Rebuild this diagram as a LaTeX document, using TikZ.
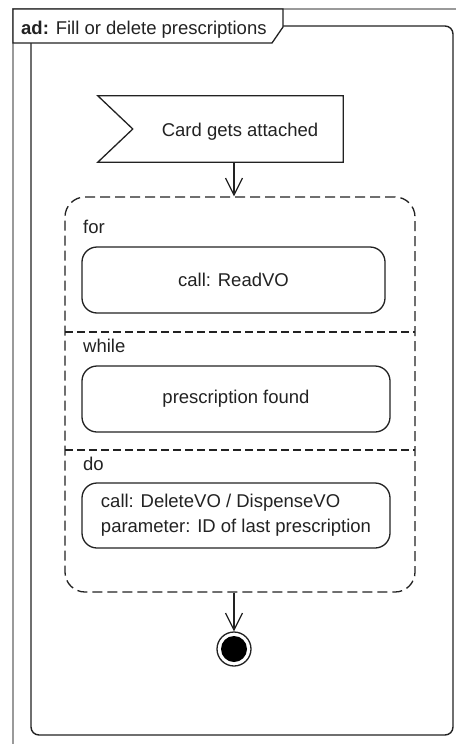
\documentclass[tikz,border=0pt]{standalone}
\usepackage{fontspec}
\setmainfont{Liberation Sans}
\usetikzlibrary{arrows.meta,calc}
\definecolor{ink}{HTML}{222222}
\definecolor{frame}{HTML}{9A9A9A}
\tikzset{
  txt/.style={font=\fontsize{18.5}{25}\selectfont, text=ink, inner sep=0pt},
  actbox/.style={draw=ink, line width=1.3pt, rounded corners=15pt, inner sep=0pt,
                 font=\fontsize{18.5}{25}\selectfont, text=ink, align=left},
  flow/.style={draw=ink, line width=1.2pt, -{Straight Barb[length=17pt,width=17pt,line width=1.2pt]}},
  dsh/.style={draw=ink, line width=1.3pt, dash pattern=on 10pt off 5pt},
}
\begin{document}
\begin{tikzpicture}[x=1pt,y=-1pt]
\useasboundingbox[fill=white] (0,0) rectangle (456,744);
% outer gray frame
\draw[frame, line width=1.2pt] (456,9) -- (13,9) -- (13,744);
% inner rounded frame
\node[draw=ink, line width=1.4pt, rounded corners=8pt, minimum width=422pt, minimum height=709pt, inner sep=0pt] (frm) at (242,380.5) {};
% title pentagon
\coordinate (p1) at (13,9);
\coordinate (p2) at (283,9);
\coordinate (p3) at (283,27);
\coordinate (p4) at (272,43);
\coordinate (p5) at (13,43);
\draw[ink, fill=white, line width=1.3pt] (p1) -- (p2) -- (p3) -- (p4) -- (p5) -- cycle;
\node[txt, anchor=base west] (title) at (21,34) {\textbf{ad:} Fill or delete prescriptions};
% accept event
\node[minimum width=245pt, minimum height=66pt, inner sep=0pt] (ev) at (220.5,129) {};
\draw[ink, line width=1.3pt] (ev.north west) -- (ev.north east) -- (ev.south east) -- (ev.south west) -- ($(ev.west)+(35,0)$) -- cycle;
\node[txt, anchor=base] (evt) at (240,136) {Card gets attached};
% expansion region
\node[dsh, rounded corners=20pt, minimum width=350pt, minimum height=395pt, inner sep=0pt] (reg) at (240,394.5) {};
\coordinate (s1l) at (65,332); \coordinate (s1r) at (415,332);
\coordinate (s2l) at (65,450); \coordinate (s2r) at (415,450);
\draw[dsh, dash pattern=on 8pt off 4pt] (s1l) -- (s1r);
\draw[dsh, dash pattern=on 8pt off 4pt] (s2l) -- (s2r);
\node[txt, anchor=base west] (lfor) at (83,233) {for};
\node[txt, anchor=base west] (lwhile) at (83,352) {while};
\node[txt, anchor=base west] (ldo) at (83,470) {do};
% actions
\node[actbox, minimum width=303pt, minimum height=66pt] (a1) at (233.5,280) {call: ReadVO};
\node[actbox, minimum width=308pt, minimum height=66pt] (a2) at (236,399) {prescription found};
\node[actbox, minimum width=308pt, minimum height=65pt] (a3) at (236,515.5) {call: DeleteVO / DispenseVO\\parameter: ID of last prescription};
% final node
\node[circle, draw=ink, line width=1.3pt, minimum size=34pt, inner sep=0pt] (fin) at (234,649) {};
\fill[black] (fin.center) circle (13pt);
% flows
\draw[flow] (ev.south -| fin) -- (reg.north -| fin);
\draw[flow] (reg.south -| fin) -- (fin.north);
\end{tikzpicture}
\end{document}
